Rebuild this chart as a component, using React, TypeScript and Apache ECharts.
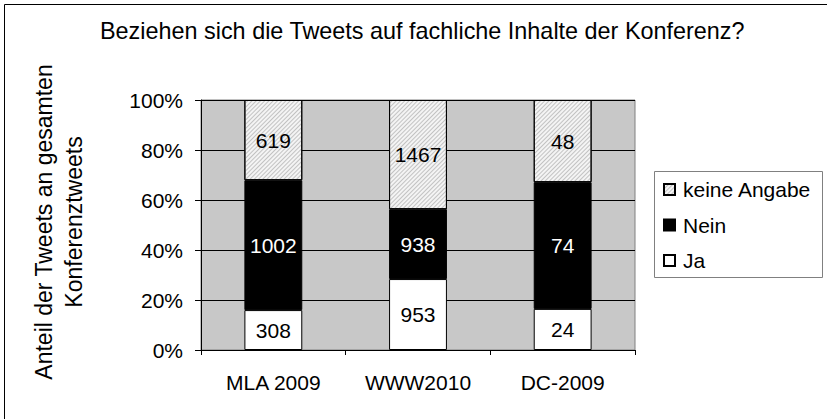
import React, { useEffect, useRef } from "react";
import * as echarts from "echarts";

const categories = ["MLA 2009", "WWW2010", "DC-2009"];
const jaCounts = [308, 953, 24];
const neinCounts = [1002, 938, 74];
const keineCounts = [619, 1467, 48];
const yTicks = [0, 20, 40, 60, 80, 100];
const titleText = "Beziehen sich die Tweets auf fachliche Inhalte der Konferenz?";
const yAxisTitle = "Anteil der Tweets an gesamten\nKonferenztweets";

const FONT = "'Liberation Sans', Arial, sans-serif";

export default function App() {
  const ref = useRef<HTMLDivElement>(null);
  useEffect(() => {
    if (!ref.current) return;
    const chart = echarts.init(ref.current, undefined, { renderer: "svg" });
    const totals = categories.map((_, i) => jaCounts[i] + neinCounts[i] + keineCounts[i]);
    const pct = (arr: number[]) => arr.map((v, i) => (v / totals[i]) * 100);
    const labelStyle = (color: string, counts: number[]) => ({
      show: true,
      position: "inside",
      color,
      fontSize: 21,
      fontFamily: FONT,
      formatter: (p: any) => String(counts[p.dataIndex]),
    });
    chart.setOption({
      animation: false,
      title: {
        text: titleText,
        left: 95,
        top: 14,
        textStyle: { fontSize: 23.4, fontWeight: "normal", color: "#000", fontFamily: FONT },
      },
      grid: {
        left: 201,
        right: 192,
        top: 100,
        bottom: 69,
        show: true,
        backgroundColor: "#c8c8c8",
        borderColor: "#808080",
        borderWidth: 1,
      },
      legend: {
        orient: "vertical",
        left: 663,
        top: 179,
        padding: 0,
        icon: "rect",
        itemWidth: 11,
        itemHeight: 11,
        itemGap: 14.5,
        data: ["keine Angabe", "Nein", "Ja"],
        textStyle: { fontSize: 21, fontFamily: FONT, color: "#000", lineHeight: 21, padding: [0, 0, 0, 3] },
      },
      xAxis: {
        type: "category",
        data: categories,
        axisLine: { lineStyle: { color: "#000", width: 1 } },
        axisTick: { show: true, alignWithLabel: false, length: 5, lineStyle: { color: "#000" } },
        axisLabel: { fontSize: 21, fontFamily: FONT, color: "#000", margin: 22 },
      },
      yAxis: {
        type: "value",
        min: yTicks[0],
        max: yTicks[yTicks.length - 1],
        interval: 20,
        axisLine: { show: true, lineStyle: { color: "#000", width: 1 } },
        axisTick: { show: true, length: 6, lineStyle: { color: "#000" } },
        axisLabel: { fontSize: 21, fontFamily: FONT, color: "#000", margin: 18, formatter: "{value}%" },
        splitLine: { show: true, lineStyle: { color: "#000", width: 1 } },
      },
      graphic: [
        {
          type: "rect",
          shape: { x: 4.5, y: 4.5, width: 900, height: 500 },
          style: { fill: "none", stroke: "#000", lineWidth: 1 },
          silent: true,
        },
        {
          type: "rect",
          shape: { x: 654.5, y: 171.5, width: 168, height: 106 },
          style: { fill: "#fff", stroke: "#808080", lineWidth: 1 },
          z: -1,
          silent: true,
        },
        {
          type: "text",
          x: 59,
          y: 222,
          rotation: Math.PI / 2,
          style: {
            text: yAxisTitle,
            fontSize: 23,
            fontFamily: FONT,
            fill: "#000",
            align: "center",
            verticalAlign: "middle",
            lineHeight: 30,
          },
          silent: true,
        },
      ],
      series: [
        {
          name: "Ja",
          type: "bar",
          stack: "all",
          barWidth: "40%",
          data: pct(jaCounts),
          itemStyle: { color: "#ffffff", borderColor: "#000", borderWidth: 1 },
          label: labelStyle("#000", jaCounts),
        },
        {
          name: "Nein",
          type: "bar",
          stack: "all",
          barWidth: "40%",
          data: pct(neinCounts),
          itemStyle: { color: "#000000", borderColor: "#000", borderWidth: 1 },
          label: labelStyle("#fff", neinCounts),
        },
        {
          name: "keine Angabe",
          type: "bar",
          stack: "all",
          barWidth: "40%",
          data: pct(keineCounts),
          itemStyle: {
            color: "#f4f4f4",
            borderColor: "#000",
            borderWidth: 1,
            decal: {
              symbol: "rect",
              color: "rgba(120,120,120,0.4)",
              dashArrayX: [1, 0],
              dashArrayY: [1, 1.5],
              symbolSize: 1,
              rotation: -Math.PI / 4,
            },
          },
          label: labelStyle("#000", keineCounts),
        },
      ],
    });
    return () => chart.dispose();
  }, []);
  return (
    <div
      ref={ref}
      style={{ position: "fixed", left: 0, top: 0, width: 827, height: 419, background: "#fff" }}
    />
  );
}
